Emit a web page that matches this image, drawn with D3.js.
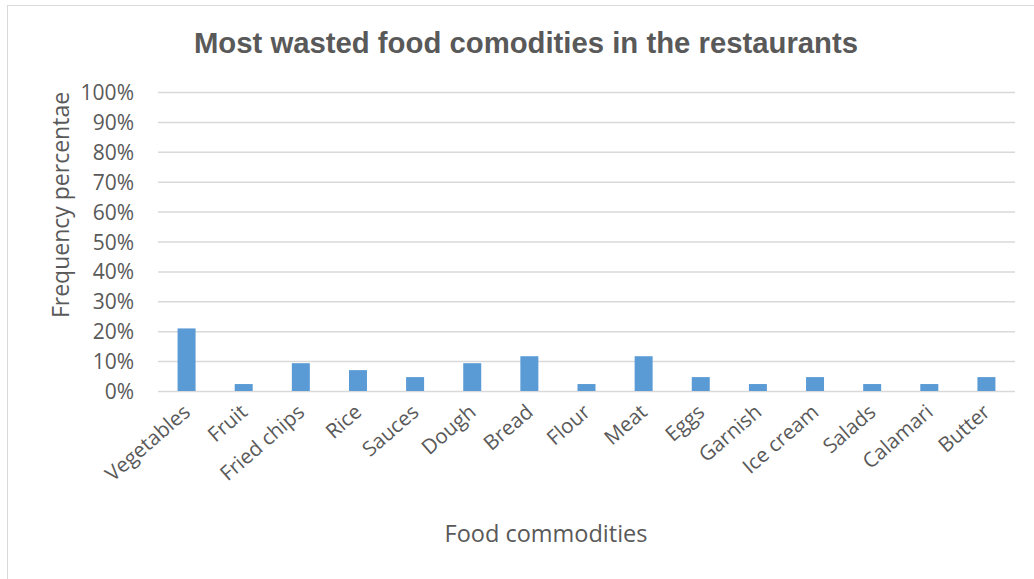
<!DOCTYPE html>
<html>
<head>
<meta charset="utf-8">
<script src="https://cdn.jsdelivr.net/npm/d3@7"></script>
<style>
  html, body { margin: 0; padding: 0; background: #fff; }
  svg { display: block; }
</style>
</head>
<body>
<svg id="chart" width="1034" height="579"></svg>
<script>
// Food commodities and the share of restaurants naming each as most wasted
const categories = ["Vegetables", "Fruit", "Fried chips", "Rice", "Sauces", "Dough", "Bread",
  "Flour", "Meat", "Eggs", "Garnish", "Ice cream", "Salads", "Calamari", "Butter"];
const frequency = [0.2093, 0.0233, 0.0930, 0.0698, 0.0465, 0.0930, 0.1163,
  0.0233, 0.1163, 0.0465, 0.0233, 0.0465, 0.0233, 0.0233, 0.0465];
const yTicks = [0, 0.1, 0.2, 0.3, 0.4, 0.5, 0.6, 0.7, 0.8, 0.9, 1.0];

const titleText = "Most wasted food comodities in the restaurants";
const yTitle = "Frequency percentae";
const xTitle = "Food commodities";

const svg = d3.select("#chart");
const plot = { left: 158, right: 1015, top: 92, bottom: 391 };
const textFont = "'Open Sans', sans-serif";
const textColor = "#595959";

// Chart frame
svg.append("rect")
  .attr("x", 7.5).attr("y", 5.5)
  .attr("width", 1040).attr("height", 600)
  .attr("fill", "#fff")
  .attr("stroke", "#d9d9d9").attr("stroke-width", 1);

const x = d3.scaleBand()
  .domain(categories)
  .range([plot.left, plot.right])
  .paddingInner(0.685)
  .paddingOuter(0.3425);

const y = d3.scaleLinear()
  .domain([0, 1])
  .range([plot.bottom, plot.top]);

// Horizontal gridlines with percentage labels
const yAxis = d3.axisLeft(y)
  .tickValues(yTicks)
  .tickFormat(d3.format(".0%"))
  .tickSize(-(plot.right - plot.left))
  .tickPadding(24);

const gy = svg.append("g")
  .attr("transform", `translate(${plot.left},0)`)
  .call(yAxis);
gy.select(".domain").remove();
gy.selectAll(".tick line")
  .attr("stroke", "#d9d9d9").attr("stroke-width", 1.5);
gy.selectAll(".tick text")
  .attr("fill", textColor)
  .attr("dy", "0.36em")
  .style("font-family", textFont)
  .style("font-size", "21px");

// Bars
svg.append("g").selectAll("rect")
  .data(categories.map((c, i) => ({ c, v: frequency[i] })))
  .join("rect")
  .attr("x", d => x(d.c))
  .attr("y", d => y(d.v))
  .attr("width", x.bandwidth())
  .attr("height", d => y(0) - y(d.v))
  .attr("fill", "#5b9bd5");

// Category labels, slanted
const xAxis = d3.axisBottom(x).tickSize(0).tickPadding(0);
const gx = svg.append("g")
  .attr("transform", `translate(0,${plot.bottom})`)
  .call(xAxis);
gx.select(".domain").remove();
gx.selectAll(".tick text")
  .attr("fill", textColor)
  .attr("text-anchor", "end")
  .attr("dy", null)
  .attr("y", 0)
  .attr("transform", "translate(5,23) rotate(-41)")
  .style("font-family", textFont)
  .style("font-size", "20.5px");

// Title
svg.append("text")
  .attr("x", 526).attr("y", 53)
  .attr("text-anchor", "middle")
  .attr("fill", textColor)
  .style("font-family", "'Liberation Sans', Arial, sans-serif")
  .style("font-weight", "bold")
  .style("font-size", "29.3px")
  .text(titleText);

// Axis titles
svg.append("text")
  .attr("transform", "translate(69,205) rotate(-90)")
  .attr("text-anchor", "middle")
  .attr("fill", textColor)
  .style("font-family", textFont)
  .style("font-size", "23px")
  .text(yTitle);

svg.append("text")
  .attr("x", 546).attr("y", 542)
  .attr("text-anchor", "middle")
  .attr("fill", textColor)
  .style("font-family", textFont)
  .style("font-size", "23.5px")
  .text(xTitle);
</script>
</body>
</html>
